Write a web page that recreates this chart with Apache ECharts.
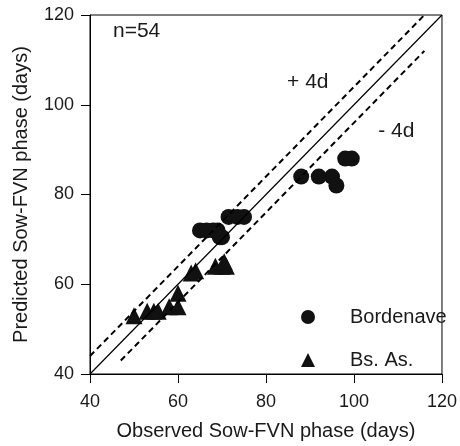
<!DOCTYPE html>
<html>
<head>
<meta charset="utf-8">
<script src="https://cdn.jsdelivr.net/npm/echarts@6/dist/echarts.min.js"></script>
<style>
  html, body { margin: 0; padding: 0; background: #fff; }
  #chart { width: 460px; height: 446px; }
</style>
</head>
<body>
<div id="chart"></div>
<script>
// observed vs predicted (days)
var bordenave = [
  [65, 72], [66.5, 72], [68, 72], [69, 72], [69.5, 70.5], [70, 70.5],
  [71.5, 75], [73.5, 75], [75, 75],
  [88, 84], [92, 84], [95, 84], [96, 82], [98, 88], [99.5, 88]
];
var bsAs = [
  [50, 53], [53, 54], [54.5, 54], [55.5, 54],
  [58, 55], [60, 55], [60, 58],
  [63, 62.5], [64, 63],
  [68.5, 64], [70, 64], [71, 64], [70.5, 65]
];
// 1:1 line and +/- 4 day bands
var lineOneToOne = [[40, 40], [120, 120]];
var linePlus4 = [[40, 44], [116, 120]];
var lineMinus4 = [[47, 43], [116, 112]];
var notes = [[50.6, 116.4, 'n=54'], [89.5, 105, '+ 4d'], [109.6, 94, '- 4d']];
var ticks = [40, 60, 80, 100, 120];

var font = 'Liberation Sans, Arial, sans-serif';
var ink = '#1a1a1a';

var chart = echarts.init(document.getElementById('chart'));

var axisCommon = {
  type: 'value',
  min: ticks[0],
  max: ticks[ticks.length - 1],
  interval: 20,
  nameLocation: 'middle',
  nameTextStyle: { fontFamily: font, fontSize: 20, color: ink },
  axisLine: { show: true, lineStyle: { color: '#000', width: 1 } },
  axisTick: { show: true, inside: false, length: 9, lineStyle: { color: '#000' } },
  axisLabel: { fontFamily: font, fontSize: 18, color: ink },
  splitLine: { show: false }
};

chart.setOption({
  animation: false,
  grid: {
    left: 90, right: 8, top: 15, bottom: 69,
    show: true, borderColor: '#000', borderWidth: 1
  },
  xAxis: Object.assign({}, axisCommon, {
    name: 'Observed Sow-FVN phase (days)',
    nameGap: 47,
    axisLabel: Object.assign({}, axisCommon.axisLabel, { margin: 19 })
  }),
  yAxis: Object.assign({}, axisCommon, {
    name: 'Predicted Sow-FVN phase (days)',
    nameGap: 59,
    axisLabel: Object.assign({}, axisCommon.axisLabel, { margin: 16 })
  }),
  legend: {
    data: [
      { name: 'Bordenave', icon: 'circle' },
      { name: 'Bs. As.', icon: 'triangle' }
    ],
    orient: 'vertical',
    left: 296,
    top: 302,
    itemWidth: 14,
    itemHeight: 14,
    itemGap: 23,
    textStyle: { fontFamily: font, fontSize: 20, color: ink, padding: [0, 0, 0, 30] }
  },
  series: [
    {
      type: 'line', data: lineOneToOne, symbol: 'none', silent: true,
      lineStyle: { color: '#000', width: 1.2 }
    },
    {
      type: 'line', data: linePlus4, symbol: 'none', silent: true,
      lineStyle: { color: '#000', width: 2, type: [6, 4] }
    },
    {
      type: 'line', data: lineMinus4, symbol: 'none', silent: true,
      lineStyle: { color: '#000', width: 2, type: [6, 4] }
    },
    {
      name: 'Bordenave', type: 'scatter', data: bordenave,
      symbol: 'circle', symbolSize: 16,
      itemStyle: { color: '#111', opacity: 1 }
    },
    {
      name: 'Bs. As.', type: 'scatter', data: bsAs,
      symbol: 'triangle', symbolSize: 17,
      itemStyle: { color: '#111', opacity: 1 }
    },
    {
      type: 'scatter', data: notes, symbolSize: 0, silent: true,
      itemStyle: { opacity: 1 },
      label: {
        show: true, position: 'inside',
        formatter: function (p) { return p.value[2]; },
        fontFamily: font, fontSize: 21, color: ink
      }
    }
  ]
});
</script>
</body>
</html>
